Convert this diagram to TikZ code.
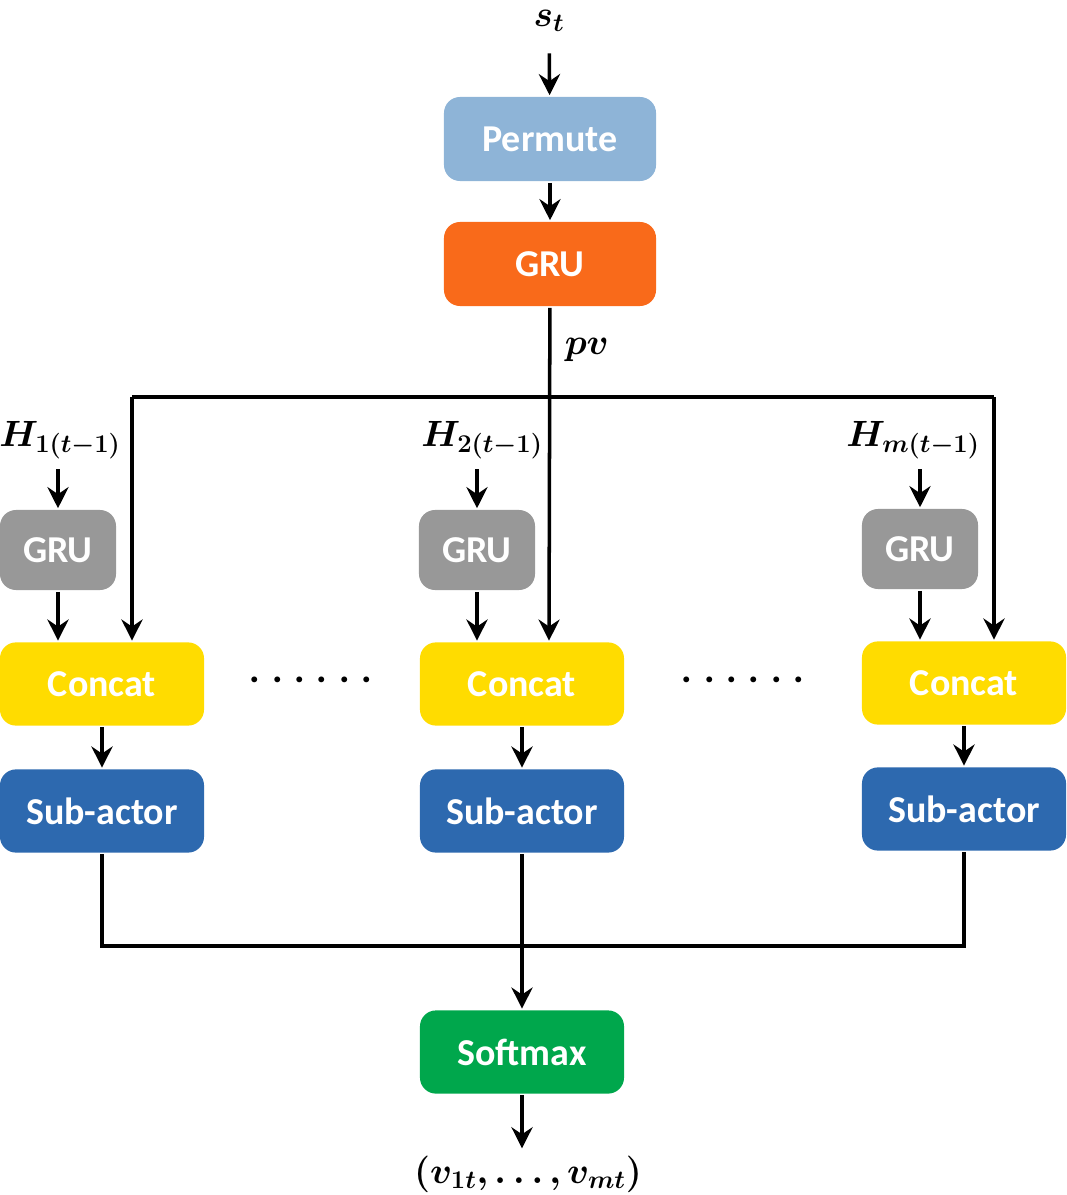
\RequirePackage{fix-cm}
\documentclass[tikz,border=0pt]{standalone}
\usepackage{bm}
\usepackage{fontspec}
\setsansfont{Carlito}
\usetikzlibrary{arrows.meta}
\definecolor{permblue}{HTML}{8EB4D7}
\definecolor{gruorange}{HTML}{F96A1A}
\definecolor{grugray}{HTML}{989898}
\definecolor{concatyellow}{HTML}{FFDC00}
\definecolor{subblue}{HTML}{2D69AF}
\definecolor{softgreen}{HTML}{00A74C}

\begin{document}
\begin{tikzpicture}[x=0.025cm, y=-0.025cm, line width=2.5pt,
	>={Stealth[length=15pt,width=15pt,inset=5pt]},
	box/.style={rectangle, rounded corners=0.4cm, inner sep=0pt, text=white,
		font=\sffamily\bfseries\fontsize{27}{30}\selectfont,
		minimum width=5.1cm, minimum height=2.08cm},
	grubox/.style={box, fill=grugray, minimum width=2.9cm, minimum height=2cm},
	lbl/.style={inner sep=0pt, font=\fontsize{26}{30}\selectfont},
	dotrow/.style={font=\sffamily\bfseries\fontsize{28}{30}\selectfont}]
	\useasboundingbox (0,0) rectangle (1066,1195);

	% Top: permute and shared GRU
	\node[lbl] (st) at (549,21) {$\bm{s_t}$};
	\node[box, fill=permblue, minimum width=5.3cm, minimum height=2.1cm] (permute) at (550,139) {Permute};
	\node[box, fill=gruorange, minimum width=5.3cm, minimum height=2.1cm] (grutop) at (550,264) {GRU};
	\node[lbl, anchor=west] (pv) at (563,350) {$\bm{pv}$};
	\draw[->, shorten <=14pt] (st) -- (permute);
	\draw[->] (permute) -- (grutop);

	% Fan-out of pv
	\coordinate (jl) at (132,397);
	\coordinate (jc) at (549,397);
	\coordinate (jr) at (994,397);
	\draw (jl) -- (jr);

	% Left column
	\node[lbl] (h1) at (60,440) {$\bm{H_{1(t-1)}}$};
	\node[grubox] (gru1) at (58,550) {GRU};
	\node[box, fill=concatyellow] (concat1) at (102,684) {Concat};
	\node[box, fill=subblue] (sub1) at (102,811) {Sub-actor};
	\draw[->] (gru1 |- h1.south) ++(0,-6pt) -- (gru1.north);
	\draw[->] (gru1) -- (gru1 |- concat1.north);
	\draw[->] (jl) -- (jl |- concat1.north);
	\draw[->] (concat1) -- (sub1);

	% Middle column
	\node[lbl] (h2) at (482,440) {$\bm{H_{2(t-1)}}$};
	\node[grubox] (gru2) at (477,550) {GRU};
	\node[box, fill=concatyellow] (concat2) at (522,684) {Concat};
	\node[box, fill=subblue] (sub2) at (522,811) {Sub-actor};
	\draw[->] (gru2 |- h2.south) ++(0,-6pt) -- (gru2.north);
	\draw[->] (gru2) -- (gru2 |- concat2.north);
	\draw[->] (grutop) -- (jc |- concat2.north);
	\draw[->] (concat2) -- (sub2);

	% Right column
	\node[lbl] (hm) at (913,440) {$\bm{H_{m(t-1)}}$};
	\node[grubox] (gru3) at (920,549) {GRU};
	\node[box, fill=concatyellow] (concat3) at (964,683) {Concat};
	\node[box, fill=subblue] (sub3) at (964,809) {Sub-actor};
	\draw[->] (gru3 |- hm.south) ++(0,-6pt) -- (gru3.north);
	\draw[->] (gru3) -- (gru3 |- concat3.north);
	\draw[->] (jr) -- (jr |- concat3.north);
	\draw[->] (concat3) -- (sub3);

	% dots between columns
	\node[dotrow] (dots1) at (311,680) {. . . . . .};
	\node[dotrow] (dots2) at (743,680) {. . . . . .};

	% Merge and softmax
	\coordinate (bl) at (101,946);
	\coordinate (br) at (964,946);
	\node[box, fill=softgreen] (softmax) at (522,1052) {Softmax};
	\node[lbl] (out) at (528,1174) {$\bm{(v_{1t},\ldots,v_{mt})}$};
	\draw (sub1.south) -- (sub1.south |- bl) -- (br) -- (sub3.south);
	\draw[->] (sub2) -- (softmax);
	\draw[->, shorten >=4pt] (softmax) -- (softmax.south |- out.north);
\end{tikzpicture}
\end{document}
